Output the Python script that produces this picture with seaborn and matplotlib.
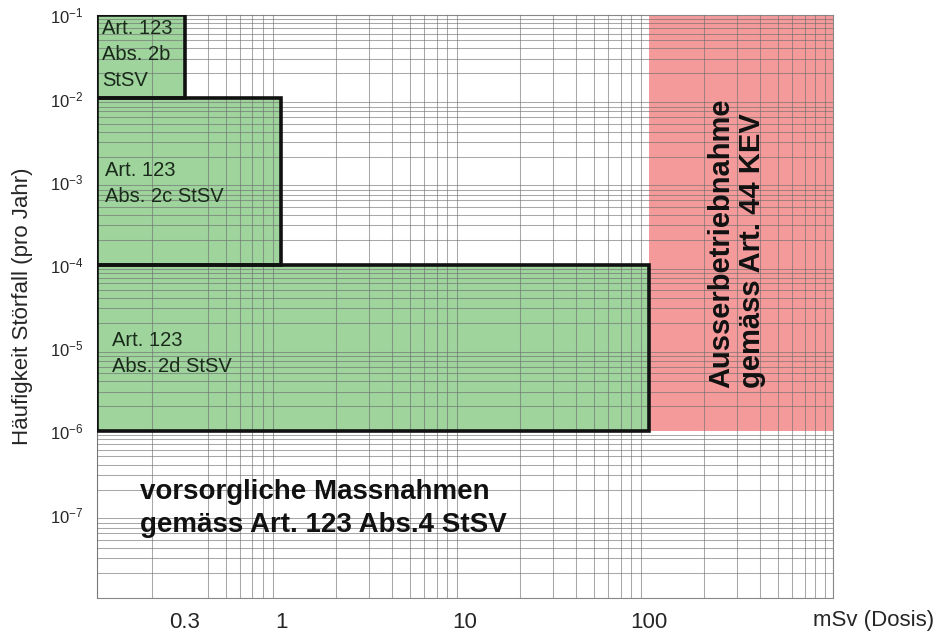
import numpy as np
import matplotlib
matplotlib.use("Agg")
import matplotlib.pyplot as plt
import matplotlib.ticker as mticker
from matplotlib.patches import Rectangle
import seaborn as sns

# ----- data -----
# green zones: (x from, x to, y from, y to, label)
zone_x0 = [0.1, 0.1, 0.1]
zone_x1 = [0.3, 1.0, 100.0]
zone_y0 = [1e-2, 1e-4, 1e-6]
zone_y1 = [1e-1, 1e-2, 1e-4]
zone_labels = ["Art. 123\nAbs. 2b\nStSV", "Art. 123\nAbs. 2c StSV", "Art. 123\nAbs. 2d StSV"]
zone_label_pos = [(0.107, 0.09), (0.11, 1.75e-3), (0.12, 1.6e-5)]

# red zone
red_x = [100.0, 1000.0]
red_y = [1e-6, 1e-1]
red_label = "Ausserbetriebnahme\ngemäss Art. 44 KEV"

bottom_label = "vorsorgliche Massnahmen\ngemäss Art. 123 Abs.4 StSV"

x_ticks = [0.3, 1, 10, 100]
x_ticklabels = ["0.3", "1", "10", "100"]
y_ticks = [1e-7, 1e-6, 1e-5, 1e-4, 1e-3, 1e-2, 1e-1]

# ----- style -----
sns.set_style("white")
plt.rcParams["font.family"] = ["Liberation Sans", "DejaVu Sans"]
plt.rcParams["mathtext.default"] = "regular"

fig = plt.figure(figsize=(9.38, 6.34), dpi=100)
ax = fig.add_axes([0.1034, 0.057, 0.7847, 0.919])
ax.set_xscale("log")
ax.set_yscale("log")
ax.set_xlim(0.1, 1000)
ax.set_ylim(1e-8, 1e-1)

green = "#9fd49d"
red = "#f49a9a"

# red zone
ax.add_patch(Rectangle((red_x[0], red_y[0]), red_x[1] - red_x[0], red_y[1] - red_y[0],
                       facecolor=red, edgecolor="none", zorder=1))

# green zones (fill below grid, outline on top)
for x0, x1, y0, y1 in zip(zone_x0, zone_x1, zone_y0, zone_y1):
    ax.add_patch(Rectangle((x0, y0), x1 - x0, y1 - y0, facecolor=green,
                           edgecolor="none", zorder=1))
    ax.add_patch(Rectangle((x0, y0), x1 - x0, y1 - y0, facecolor="none",
                           edgecolor="#111111", linewidth=2.6, zorder=4))

for (tx, ty), lab in zip(zone_label_pos, zone_labels):
    ax.text(tx, ty, lab, fontsize=14.5, va="top", ha="left", color="#1a2a1a",
            linespacing=1.45, zorder=5)

ax.text(300, 1.8e-4, red_label, rotation=90, fontsize=21, fontweight="bold",
        ha="center", va="center", multialignment="left", color="#111111",
        linespacing=1.15, zorder=5)

ax.text(0.171, 2.7e-7, bottom_label, fontsize=20, fontweight="bold",
        ha="left", va="top", color="#111111", linespacing=1.35, zorder=5)

# grid
ax.set_axisbelow(False)
ax.xaxis.set_minor_locator(mticker.LogLocator(base=10, subs=np.arange(1, 10), numticks=100))
ax.yaxis.set_minor_locator(mticker.LogLocator(base=10, subs=np.arange(1, 10), numticks=100))
ax.xaxis.set_minor_formatter(mticker.NullFormatter())
ax.yaxis.set_minor_formatter(mticker.NullFormatter())
ax.grid(which="minor", color="#6e6e6e", linewidth=0.75, alpha=0.6)
ax.grid(which="major", visible=False)

ax.set_xticks(x_ticks)
ax.set_xticklabels(x_ticklabels)
ax.set_yticks(y_ticks)
ax.yaxis.set_major_formatter(mticker.LogFormatterSciNotation())
ax.tick_params(axis="both", which="both", length=0)
ax.tick_params(axis="x", labelsize=16, pad=10)
ax.tick_params(axis="y", labelsize=12, pad=10)

for sp in ax.spines.values():
    sp.set_color("#888888")
    sp.set_linewidth(0.8)

ax.set_ylabel("Häufigkeit Störfall (pro Jahr)", fontsize=16, labelpad=12)
fig.text(0.931, 0.022, "mSv (Dosis)", fontsize=16, ha="center", va="center")

fig.savefig("out.png", dpi=100)
